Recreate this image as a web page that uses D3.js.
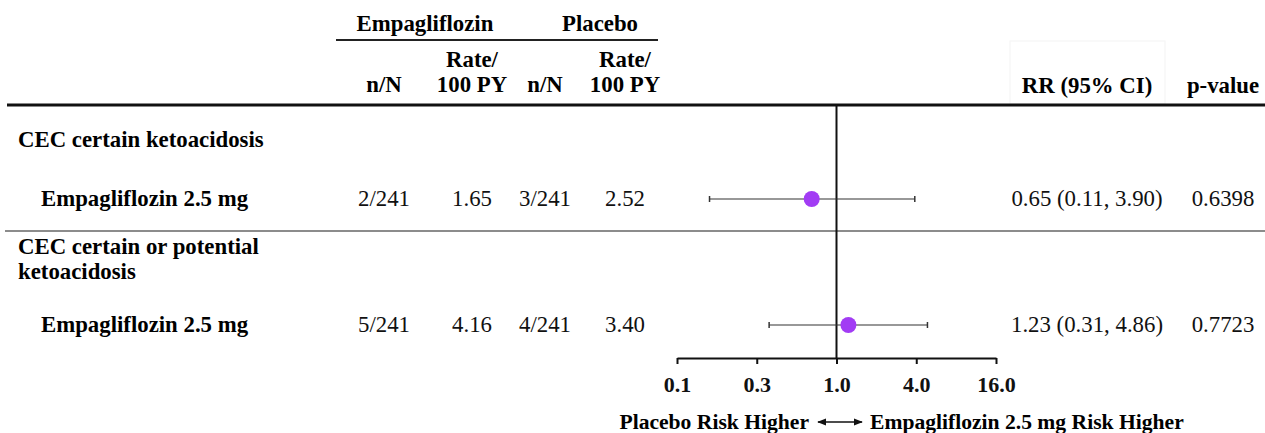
<!DOCTYPE html>
<html>
<head>
<meta charset="utf-8">
<script src="https://cdn.jsdelivr.net/npm/d3@7"></script>
<style>
  html, body { margin: 0; padding: 0; background: #fff; }
  svg { display: block; font-family: "Liberation Serif", "Times New Roman", serif; }
</style>
</head>
<body>
<svg id="chart" width="1265" height="433"></svg>
<script>
// Subgroup headings and treatment rows
const groupLabels = [["CEC certain ketoacidosis"], ["CEC certain or potential", "ketoacidosis"]];
const treatments = ["Empagliflozin 2.5 mg", "Empagliflozin 2.5 mg"];
const empaNN = ["2/241", "5/241"];
const empaRate = [1.65, 4.16];
const placeboNN = ["3/241", "4/241"];
const placeboRate = [2.52, 3.40];
const rr = [0.65, 1.23];
const rrLow = [0.11, 0.31];
const rrHigh = [3.90, 4.86];
const pValues = ["0.6398", "0.7723"];

// Log-2 axis ticks (1/16, 1/4, 1, 4, 16) printed with one decimal
const tickValues = [0.0625, 0.25, 1, 4, 16];
const tickLabels = ["0.1", "0.3", "1.0", "4.0", "16.0"];

const svg = d3.select("#chart");
const FS = 22.8;
const LEG_FS = 21.6;
const dotColor = "#a23cf4";

const x = d3.scaleLog().base(2).domain([0.0625, 16]).range([677, 996]);

// Layout: row centres for headings and estimate rows
const headingY = [140, 247];
const rowY = [199, 325];
const axisY = 358;
const ruleY = 105;

// Column header block
const hdr = svg.append("g").attr("font-weight", "bold").attr("font-size", FS).attr("text-anchor", "middle");
hdr.append("text").attr("x", 425).attr("y", 31).text("Empagliflozin");
hdr.append("text").attr("x", 600).attr("y", 31).text("Placebo");
svg.append("line").attr("x1", 336).attr("x2", 658).attr("y1", 40).attr("y2", 40)
  .attr("stroke", "#222").attr("stroke-width", 2);

const colX = { empaNN: 384, empaRate: 472, plNN: 545, plRate: 625, rr: 1087, p: 1223 };
hdr.append("text").attr("x", colX.empaNN).attr("y", 92).text("n/N");
hdr.append("text").attr("x", colX.empaRate).attr("y", 67).text("Rate/");
hdr.append("text").attr("x", colX.empaRate).attr("y", 92).text("100 PY");
hdr.append("text").attr("x", colX.plNN).attr("y", 92).text("n/N");
hdr.append("text").attr("x", colX.plRate).attr("y", 67).text("Rate/");
hdr.append("text").attr("x", colX.plRate).attr("y", 92).text("100 PY");

// faint frame behind the estimate column header
svg.append("rect").attr("x", 1010).attr("y", 41).attr("width", 155).attr("height", 63)
  .attr("fill", "none").attr("stroke", "#f6f6f6").attr("stroke-width", 1.2);
hdr.append("text").attr("x", colX.rr).attr("y", 93).text("RR (95% CI)");
hdr.append("text").attr("x", colX.p).attr("y", 93).text("p-value");

// Heavy header rule
svg.append("line").attr("x1", 7).attr("x2", 1265).attr("y1", ruleY).attr("y2", ruleY)
  .attr("stroke", "#111").attr("stroke-width", 3);

// Separator between the two subgroups
svg.append("line").attr("x1", 5).attr("x2", 1265).attr("y1", 231).attr("y2", 231)
  .attr("stroke", "#666").attr("stroke-width", 1.5);

// Reference line at RR = 1
svg.append("line").attr("x1", x(1)).attr("x2", x(1)).attr("y1", ruleY).attr("y2", axisY)
  .attr("stroke", "#111").attr("stroke-width", 2);

// Subgroup headings
groupLabels.forEach((lines, i) => {
  const t = svg.append("text").attr("font-weight", "bold").attr("font-size", FS)
    .attr("x", 18).attr("y", headingY[i] + 7);
  lines.forEach((ln, j) => {
    t.append("tspan").attr("x", 18).attr("dy", j === 0 ? 0 : 25).text(ln);
  });
});

// Rows
const rows = svg.append("g").selectAll("g").data(treatments).join("g")
  .attr("transform", (d, i) => `translate(0,${rowY[i]})`);

rows.append("text").attr("x", 41).attr("y", 7).attr("font-weight", "bold").attr("font-size", FS)
  .text(d => d);

const cell = (sel, xPos, fn) => sel.append("text").attr("x", xPos).attr("y", 7)
  .attr("text-anchor", "middle").attr("font-size", FS).attr("fill", "#111").text(fn);

cell(rows, colX.empaNN, (d, i) => empaNN[i]);
cell(rows, colX.empaRate, (d, i) => empaRate[i].toFixed(2));
cell(rows, colX.plNN, (d, i) => placeboNN[i]);
cell(rows, colX.plRate, (d, i) => placeboRate[i].toFixed(2));
cell(rows, colX.rr, (d, i) => `${rr[i].toFixed(2)} (${rrLow[i].toFixed(2)}, ${rrHigh[i].toFixed(2)})`);
cell(rows, colX.p, (d, i) => pValues[i]);

// Confidence intervals with end caps
rows.append("line")
  .attr("x1", (d, i) => x(rrLow[i])).attr("x2", (d, i) => x(rrHigh[i]))
  .attr("y1", 0).attr("y2", 0).attr("stroke", "#333").attr("stroke-width", 1.2);
[rrLow, rrHigh].forEach(arr => {
  rows.append("line")
    .attr("x1", (d, i) => x(arr[i])).attr("x2", (d, i) => x(arr[i]))
    .attr("y1", -3).attr("y2", 3).attr("stroke", "#333").attr("stroke-width", 1.5);
});
rows.append("circle").attr("cx", (d, i) => x(rr[i])).attr("cy", 0).attr("r", 8)
  .attr("fill", dotColor);

// Axis
const axis = d3.axisBottom(x).tickValues(tickValues)
  .tickFormat((d, i) => tickLabels[i]).tickSize(6).tickSizeOuter(0).tickPadding(12);
const ax = svg.append("g").attr("transform", `translate(0,${axisY})`).call(axis);
ax.select(".domain").attr("stroke", "#111").attr("stroke-width", 2);
ax.selectAll(".tick line").attr("stroke", "#111").attr("stroke-width", 2);
ax.selectAll(".tick text").attr("font-family", "Liberation Serif, serif")
  .attr("font-weight", "bold").attr("font-size", 22).attr("fill", "#111");

// Direction legend
const legY = 429;
svg.append("text").attr("x", 809).attr("y", legY).attr("text-anchor", "end")
  .attr("font-weight", "bold").attr("font-size", LEG_FS).text("Placebo Risk Higher");
svg.append("text").attr("x", 870).attr("y", legY)
  .attr("font-weight", "bold").attr("font-size", LEG_FS).text("Empagliflozin 2.5 mg Risk Higher");
const defs = svg.append("defs");
defs.append("marker").attr("id", "ah").attr("viewBox", "0 0 10 10").attr("refX", 9).attr("refY", 5)
  .attr("markerWidth", 9).attr("markerHeight", 9).attr("markerUnits", "userSpaceOnUse")
  .attr("orient", "auto-start-reverse")
  .append("path").attr("d", "M0,1 L10,5 L0,9 Z").attr("fill", "#111");
svg.append("line").attr("x1", 818).attr("x2", 862).attr("y1", legY - 7).attr("y2", legY - 7)
  .attr("stroke", "#111").attr("stroke-width", 1.3)
  .attr("marker-start", "url(#ah)").attr("marker-end", "url(#ah)");
</script>
</body>
</html>
